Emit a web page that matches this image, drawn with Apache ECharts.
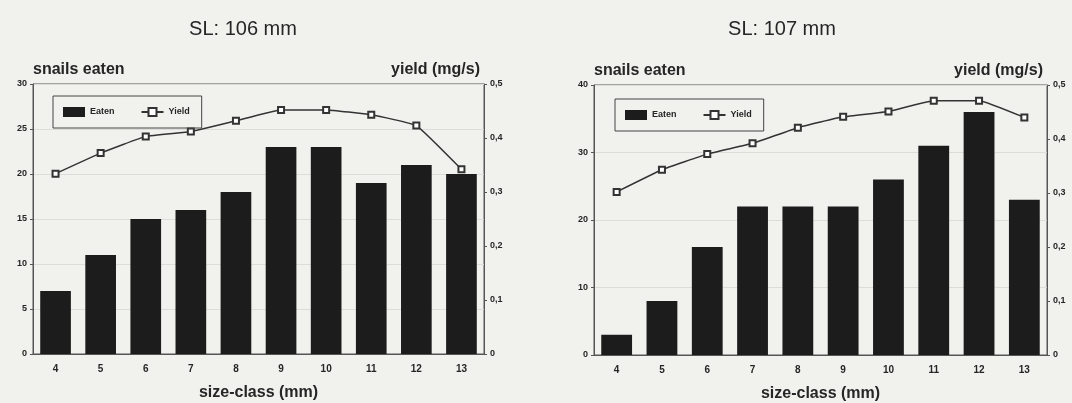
<!DOCTYPE html>
<html>
<head>
<meta charset="utf-8">
<script src="https://cdn.jsdelivr.net/npm/echarts@6/dist/echarts.min.js"></script>
<style>
  html, body { margin: 0; padding: 0; background: #f1f1ee; }
  #chart { width: 1072px; height: 403px; }
</style>
</head>
<body>
<div id="chart"></div>
<script>
  // size classes (mm)
  const sizeClass = ['4', '5', '6', '7', '8', '9', '10', '11', '12', '13']
  // SL 106 mm
  const eaten106 = [7, 11, 15, 16, 18, 23, 23, 19, 21, 20]
  const yield106 = [0.334, 0.372, 0.403, 0.412, 0.432, 0.452, 0.452, 0.443, 0.423, 0.342]
  // SL 107 mm
  const eaten107 = [3, 8, 16, 22, 22, 22, 26, 31, 36, 23]
  const yield107 = [0.302, 0.343, 0.372, 0.392, 0.421, 0.441, 0.451, 0.471, 0.471, 0.44]

  const ink = '#262626'
  const font = 'Liberation Sans'

  const fmtComma = v => String(v).replace('.', ',')

  function leftAxis(idx, max, interval) {
    return {
      type: 'value', gridIndex: idx, min: 0, max: max, interval: interval,
      name: 'snails eaten', nameLocation: 'end', nameGap: 6,
      nameTextStyle: { color: ink, fontSize: 16, fontWeight: 'bold', fontFamily: font, align: 'left' },
      axisLine: { show: true, lineStyle: { color: '#555', width: 1 } },
      axisTick: { show: true, length: 3, lineStyle: { color: '#555' } },
      axisLabel: { color: ink, fontSize: 9, fontWeight: 'bold', fontFamily: font, margin: 6 },
      splitLine: { show: true, lineStyle: { color: '#dcdcd8', width: 1 } }
    }
  }

  function rightAxis(idx) {
    return {
      type: 'value', gridIndex: idx, min: 0, max: 0.5, interval: 0.1, position: 'right',
      name: 'yield (mg/s)', nameLocation: 'end', nameGap: 6,
      nameTextStyle: { color: ink, fontSize: 16, fontWeight: 'bold', fontFamily: font, align: 'right', padding: [0, 4, 0, 0] },
      axisLine: { show: true, lineStyle: { color: '#555', width: 1 } },
      axisTick: { show: true, length: 3, lineStyle: { color: '#555' } },
      axisLabel: { color: ink, fontSize: 9, fontWeight: 'bold', fontFamily: font, margin: 6, formatter: v => fmtComma(Math.round(v * 10) / 10) },
      splitLine: { show: false }
    }
  }

  function xAxis(idx) {
    return {
      type: 'category', gridIndex: idx, data: sizeClass,
      name: 'size-class (mm)', nameLocation: 'middle', nameGap: 31,
      nameTextStyle: { color: ink, fontSize: 16, fontWeight: 'bold', fontFamily: font },
      axisLine: { show: true, lineStyle: { color: '#555', width: 1 } },
      axisTick: { show: false },
      axisLabel: { color: ink, fontSize: 10, fontWeight: 'bold', fontFamily: font, margin: 10 }
    }
  }

  function legend(left, top) {
    return {
      left: left, top: top, orient: 'horizontal',
      data: [{ name: 'Eaten', icon: 'rect' }, { name: 'Yield' }],
      itemWidth: 22, itemHeight: 10, itemGap: 26,
      padding: [11, 12, 11, 10],
      borderColor: '#444', borderWidth: 1,
      textStyle: { color: ink, fontSize: 9, fontWeight: 'bold', fontFamily: font },
      selectedMode: false
    }
  }

  function barSeries(idx, data) {
    return {
      name: 'Eaten', type: 'bar', xAxisIndex: idx, yAxisIndex: idx * 2,
      data: data, barWidth: '68%',
      itemStyle: { color: '#1c1c1c' }
    }
  }

  function lineSeries(idx, data) {
    return {
      name: 'Yield', type: 'line', xAxisIndex: idx, yAxisIndex: idx * 2 + 1,
      data: data, smooth: 0.1,
      symbol: 'emptyRect', symbolSize: 6,
      lineStyle: { color: '#333', width: 1.5 },
      itemStyle: { color: '#333', borderWidth: 1.2 }
    }
  }

  const option = {
    backgroundColor: '#f1f1ee',
    animation: false,
    title: [
      { text: 'SL: 106 mm', left: 238, top: 14, textAlign: 'center',
        textStyle: { color: ink, fontSize: 20, fontWeight: 'normal', fontFamily: font } },
      { text: 'SL: 107 mm', left: 777, top: 14, textAlign: 'center',
        textStyle: { color: ink, fontSize: 20, fontWeight: 'normal', fontFamily: font } }
    ],
    legend: [legend(53, 96), legend(615, 99)],
    grid: [
      { left: 33, right: 588, top: 84, bottom: 49, outerBoundsMode: 'none', show: true, borderColor: '#555', borderWidth: 1, backgroundColor: 'transparent' },
      { left: 594, right: 25, top: 85, bottom: 48, outerBoundsMode: 'none', show: true, borderColor: '#555', borderWidth: 1, backgroundColor: 'transparent' }
    ],
    xAxis: [xAxis(0), xAxis(1)],
    yAxis: [leftAxis(0, 30, 5), rightAxis(0), leftAxis(1, 40, 10), rightAxis(1)],
    series: [
      barSeries(0, eaten106), lineSeries(0, yield106),
      barSeries(1, eaten107), lineSeries(1, yield107)
    ]
  }

  const chart = echarts.init(document.getElementById('chart'))
  chart.setOption(option)
</script>
</body>
</html>
